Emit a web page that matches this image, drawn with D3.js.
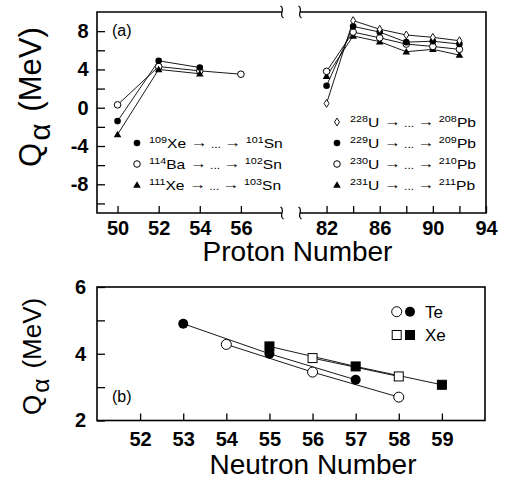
<!DOCTYPE html>
<html>
<head>
<meta charset="utf-8">
<script src="https://cdn.jsdelivr.net/npm/d3@7"></script>
<style>
  body { margin: 0; background: #fff; }
  svg { display: block; font-family: "Liberation Sans", Arial, Helvetica, sans-serif; }
</style>
</head>
<body>
<svg id="chart" width="505" height="480"></svg>
<script>
// ---- Panel (a): Q-alpha along decay chains, by proton number ----
const snProton109 = [50, 52, 54];
const snQ109 = [-1.4, 4.9, 4.2];
const snProton114 = [50, 52, 54, 56];
const snQ114 = [0.3, 4.3, 3.85, 3.5];
const snProton111 = [50, 52, 54];
const snQ111 = [-2.8, 4.0, 3.55];

const pbProton = [82, 84, 86, 88, 90, 92];
const pbQ228 = [0.45, 9.1, 8.2, 7.6, 7.35, 7.0];
const pbQ229 = [2.3, 8.5, 7.9, 6.85, 6.95, 6.65];
const pbQ230 = [3.8, 7.9, 7.3, 6.65, 6.4, 6.1];
const pbQ231 = [3.3, 7.5, 6.9, 5.85, 6.1, 5.5];

// ---- Panel (b): Te and Xe isotopes, by neutron number ----
const teNeutronFilled = [53, 55, 57];
const teQFilled = [4.9, 4.0, 3.22];
const teNeutronOpen = [54, 56, 58];
const teQOpen = [4.28, 3.45, 2.7];
const xeNeutronFilled = [55, 57, 59];
const xeQFilled = [4.22, 3.62, 3.07];
const xeNeutronOpen = [56, 58];
const xeQOpen = [3.87, 3.32];

// ---- Ticks and labels ----
const aYTicks = [-10, -8, -6, -4, -2, 0, 2, 4, 6, 8];
const aYLabels = [-8, -4, 0, 4, 8];
const aXTicksLeft = [50, 52, 54, 56];
const aXTicksRight = [82, 84, 86, 88, 90, 92, 94];
const aXLabelsRight = [82, 86, 90, 94];
const bXTicks = [52, 53, 54, 55, 56, 57, 58, 59];
const bYTicks = [2, 3, 4, 5, 6];
const bYLabels = [2, 4, 6];

// ---- Legend entries ----
const snLegendMarks = ["filled", "open", "triangle"];
const snLegendParents = [["109", "Xe"], ["114", "Ba"], ["111", "Xe"]];
const snLegendDaughters = [["101", "Sn"], ["102", "Sn"], ["103", "Sn"]];
const pbLegendMarks = ["diamond", "filled", "open", "triangle"];
const pbLegendParents = [["228", "U"], ["229", "U"], ["230", "U"], ["231", "U"]];
const pbLegendDaughters = [["208", "Pb"], ["209", "Pb"], ["210", "Pb"], ["211", "Pb"]];
const bLegendNames = ["Te", "Xe"];

const svg = d3.select("#chart");
svg.append("rect").attr("width", 505).attr("height", 480).attr("fill", "#fff");

// ---------------- Panel (a) geometry ----------------
const A = { left: 97, right: 486, top: 12, bottom: 213, breakL: 282, breakR: 300 };
const xAL = d3.scaleLinear().domain([49, 58]).range([A.left, A.breakL]);
const xAR = d3.scaleLinear().domain([80, 94]).range([A.breakR, A.right]);
const yA = d3.scaleLinear().domain([-11, 10]).range([A.bottom, A.top]);

// ---------------- Panel (b) geometry ----------------
const B = { left: 97, right: 485, top: 287, bottom: 420.5 };
const xB = d3.scaleLinear().domain([51, 60]).range([B.left, B.right]);
const yB = d3.scaleLinear().domain([2, 6]).range([B.bottom, B.top]);

function styleAxis(g) {
  g.attr("font-family", null).attr("font-size", null);
  g.select(".domain").remove();
  g.selectAll(".tick line").attr("stroke", "#000").attr("stroke-width", 1.3);
  g.selectAll(".tick text").attr("fill", "#000")
    .attr("font-family", "'Liberation Sans', Arial, sans-serif")
    .attr("font-weight", "bold").attr("font-size", 20);
}

// Axes for panel (a)
svg.append("g").attr("transform", `translate(${A.left},0)`)
  .call(d3.axisLeft(yA).tickValues(aYTicks).tickSize(-8).tickPadding(8.5)
    .tickFormat(d => aYLabels.includes(d) ? String(d) : ""))
  .call(styleAxis);
svg.append("g").attr("transform", `translate(0,${A.bottom})`)
  .call(d3.axisBottom(xAL).tickValues(aXTicksLeft).tickSize(-7).tickPadding(8)
    .tickFormat(d => String(d)))
  .call(styleAxis);
svg.append("g").attr("transform", `translate(0,${A.bottom})`)
  .call(d3.axisBottom(xAR).tickValues(aXTicksRight).tickSize(-7).tickPadding(8)
    .tickFormat(d => aXLabelsRight.includes(d) ? String(d) : ""))
  .call(styleAxis);

// Broken frame for panel (a)
function squiggle(x0, y0) {
  return `M${x0 - 1.5},${y0 - 6} C${x0 + 4},${y0 - 3} ${x0 - 4},${y0 + 3} ${x0 + 1.5},${y0 + 6}`;
}
const frameA = svg.append("g").attr("fill", "none").attr("stroke", "#000");
frameA.append("path").attr("stroke-width", 1.6)
  .attr("d", `M${A.breakL},${A.top} H${A.left} V${A.bottom} H${A.breakL}`);
frameA.append("path").attr("stroke-width", 1.6)
  .attr("d", `M${A.breakR},${A.top} H${A.right} V${A.bottom} H${A.breakR}`);
[A.top, A.bottom].forEach(yy => {
  [A.breakL, A.breakR].forEach(xx => {
    frameA.append("path").attr("stroke-width", 1.2).attr("d", squiggle(xx, yy));
  });
});

// Axes for panel (b)
svg.append("g").attr("transform", `translate(${B.left},0)`)
  .call(d3.axisLeft(yB).tickValues(bYTicks).tickSize(-8).tickPadding(11)
    .tickFormat(d => bYLabels.includes(d) ? String(d) : ""))
  .call(styleAxis);
svg.append("g").attr("transform", `translate(0,${B.bottom})`)
  .call(d3.axisBottom(xB).tickValues(bXTicks).tickSize(-7).tickPadding(11)
    .tickFormat(d => String(d)))
  .call(styleAxis);
svg.append("rect").attr("x", B.left).attr("y", B.top)
  .attr("width", B.right - B.left).attr("height", B.bottom - B.top)
  .attr("fill", "none").attr("stroke", "#000").attr("stroke-width", 1.6);

// ---------------- Marker helpers ----------------
function drawMarker(g, kind, cx, cy, s) {
  if (kind === "filled") {
    g.append("circle").attr("cx", cx).attr("cy", cy).attr("r", s).attr("fill", "#000");
  } else if (kind === "open") {
    g.append("circle").attr("cx", cx).attr("cy", cy).attr("r", s)
      .attr("fill", "#fff").attr("stroke", "#000").attr("stroke-width", 1);
  } else if (kind === "triangle") {
    g.append("path").attr("transform", `translate(${cx},${cy + 0.6})`)
      .attr("d", d3.symbol(d3.symbolTriangle, s * s * 2.3)()).attr("fill", "#000");
  } else if (kind === "diamond") {
    const w = s * 0.75, h = s * 1.2;
    g.append("path")
      .attr("d", `M${cx},${cy - h} L${cx + w},${cy} L${cx},${cy + h} L${cx - w},${cy} Z`)
      .attr("fill", "#fff").attr("stroke", "#000").attr("stroke-width", 0.9);
  } else if (kind === "square" || kind === "squareOpen") {
    g.append("rect").attr("x", cx - s).attr("y", cy - s).attr("width", 2 * s).attr("height", 2 * s)
      .attr("fill", kind === "square" ? "#000" : "#fff")
      .attr("stroke", "#000").attr("stroke-width", 1);
  }
}

function drawSeries(g, xs, ys, xScale, yScale) {
  const pts = xs.map((x, i) => [xScale(x), yScale(ys[i])]);
  g.append("path").attr("d", d3.line()(pts))
    .attr("fill", "none").attr("stroke", "#000").attr("stroke-width", 0.9);
  return pts;
}

// ---------------- Panel (a) data ----------------
const plotA = svg.append("g");
const seriesA = [
  { xs: snProton114, ys: snQ114, x: xAL, kind: "open" },
  { xs: snProton111, ys: snQ111, x: xAL, kind: "triangle" },
  { xs: snProton109, ys: snQ109, x: xAL, kind: "filled" },
  { xs: pbProton, ys: pbQ231, x: xAR, kind: "triangle" },
  { xs: pbProton, ys: pbQ230, x: xAR, kind: "open" },
  { xs: pbProton, ys: pbQ229, x: xAR, kind: "filled" },
  { xs: pbProton, ys: pbQ228, x: xAR, kind: "diamond" }
];
const ptsA = seriesA.map(s => drawSeries(plotA, s.xs, s.ys, s.x, yA));
seriesA.forEach((s, i) => ptsA[i].forEach(p => drawMarker(plotA, s.kind, p[0], p[1], 3.3)));

// ---------------- Panel (b) data ----------------
const plotB = svg.append("g");
const seriesB = [
  { xs: teNeutronFilled, ys: teQFilled, kind: "filled", s: 5 },
  { xs: teNeutronOpen, ys: teQOpen, kind: "open", s: 5 },
  { xs: xeNeutronFilled, ys: xeQFilled, kind: "square", s: 4.5 },
  { xs: xeNeutronOpen, ys: xeQOpen, kind: "squareOpen", s: 4.5 }
];
const ptsB = seriesB.map(s => drawSeries(plotB, s.xs, s.ys, xB, yB));
seriesB.forEach((s, i) => ptsB[i].forEach(p => drawMarker(plotB, s.kind, p[0], p[1], s.s)));

// ---------------- Legends for panel (a) ----------------
function chainLabel(x, y, parent, daughter) {
  const t = svg.append("text")
    .attr("transform", `translate(${x},${y}) scale(1.2,1)`)
    .attr("fill", "#000").style("font-size", "13px");
  t.append("tspan").text(parent[0]).style("font-size", "9px").attr("dy", -4.5);
  t.append("tspan").text(parent[1]).attr("dy", 4.5);
  t.append("tspan").text(" \u2192").style("font-size", "14px").attr("dy", -0.5);
  t.append("tspan").text(" ... ").style("font-size", "10px").attr("dy", 0.5);
  t.append("tspan").text("\u2192 ").style("font-size", "14px").attr("dy", -0.5);
  t.append("tspan").text(daughter[0]).style("font-size", "9px").attr("dy", -4);
  t.append("tspan").text(daughter[1]).attr("dy", 4.5);
}
const snRows = [143, 164, 185];
snLegendMarks.forEach((m, i) => {
  drawMarker(svg, m, 137, snRows[i], 3.3);
  chainLabel(149, snRows[i] + 4.6, snLegendParents[i], snLegendDaughters[i]);
});
const pbRows = [122, 143, 164, 185];
pbLegendMarks.forEach((m, i) => {
  drawMarker(svg, m, 337, pbRows[i], 3.3);
  chainLabel(350, pbRows[i] + 4.6, pbLegendParents[i], pbLegendDaughters[i]);
});

// ---------------- Legend for panel (b) ----------------
const bRows = [311.7, 335];
drawMarker(svg, "open", 396.7, bRows[0], 5);
drawMarker(svg, "filled", 410, bRows[0], 5);
drawMarker(svg, "squareOpen", 396.7, bRows[1], 4.5);
drawMarker(svg, "square", 410, bRows[1], 4.5);
bLegendNames.forEach((n, i) => {
  svg.append("text").attr("x", 425).attr("y", bRows[i] + 6)
    .style("font-size", "17px").attr("fill", "#000").text(n);
});

// ---------------- Panel tags ----------------
svg.append("text").attr("x", 112).attr("y", 35.5).style("font-size", "16px").text("(a)");
svg.append("text").attr("x", 112).attr("y", 401.5).style("font-size", "16px").text("(b)");

// ---------------- Axis titles ----------------
function yTitle(xBase, yStart, size) {
  const t = svg.append("text")
    .attr("transform", `translate(${xBase},${yStart}) rotate(-90)`)
    .attr("fill", "#000").style("font-size", size + "px");
  t.append("tspan").text("Q");
  t.append("tspan").text("\u03b1").style("font-size", (size * 0.95) + "px")
    .attr("dx", size * 0.08).attr("dy", size * 0.3);
  t.append("tspan").text(" (MeV)").attr("dy", -size * 0.3).attr("dx", size * 0.1);
}
yTitle(41, 167, 31);
yTitle(41, 415, 26);

svg.append("text").attr("x", 297.5).attr("y", 260.5).attr("text-anchor", "middle")
  .style("font-size", "28px").attr("fill", "#000").text("Proton Number");
svg.append("text").attr("x", 313).attr("y", 474).attr("text-anchor", "middle")
  .style("font-size", "28px").attr("fill", "#000").text("Neutron Number");
</script>
</body>
</html>
